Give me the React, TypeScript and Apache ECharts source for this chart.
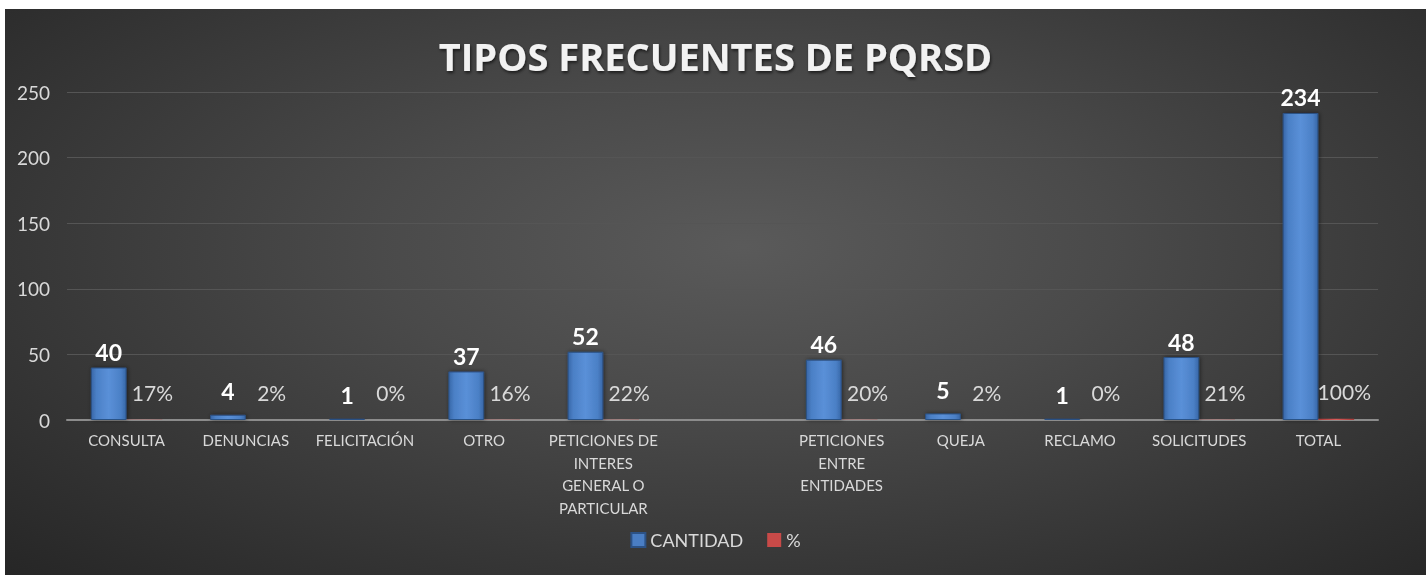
import React, { useEffect, useRef } from "react";
import * as echarts from "echarts";

const categories = [
  "CONSULTA",
  "DENUNCIAS",
  "FELICITACIÓN",
  "OTRO",
  "PETICIONES DE\nINTERES\nGENERAL O\nPARTICULAR",
  "",
  "PETICIONES\nENTRE\nENTIDADES",
  "QUEJA",
  "RECLAMO",
  "SOLICITUDES",
  "TOTAL",
];
const cantidad = [40, 4, 1, 37, 52, null, 46, 5, 1, 48, 234];
const porcentaje = [0.17, 0.02, 0.0, 0.16, 0.22, null, 0.2, 0.02, 0.0, 0.21, 1.0];
const yTicks = { min: 0, max: 250, interval: 50 };

const FONT = "Lato, 'Open Sans', sans-serif";

export default function App() {
  const ref = useRef<HTMLDivElement>(null);
  useEffect(() => {
    if (!ref.current) return;
    const chart = echarts.init(ref.current, null, { renderer: "svg" });
    const blue = new echarts.graphic.LinearGradient(0, 0, 1, 0, [
      { offset: 0, color: "#3867a8" },
      { offset: 0.15, color: "#4b80c6" },
      { offset: 0.5, color: "#5a90d8" },
      { offset: 0.85, color: "#4b80c6" },
      { offset: 1, color: "#3867a8" },
    ]);
    const red = new echarts.graphic.LinearGradient(0, 0, 1, 0, [
      { offset: 0, color: "#a83a38" },
      { offset: 0.5, color: "#d85a58" },
      { offset: 1, color: "#a83a38" },
    ]);
    chart.setOption({
      animation: false,
      textStyle: { fontFamily: FONT },
      title: {
        text: "TIPOS FRECUENTES DE PQRSD",
        left: "center",
        top: 23,
        textStyle: {
          color: "#f2f2f2",
          fontSize: 38,
          fontWeight: "bold",
          fontFamily: "'Open Sans', sans-serif",
          textShadowColor: "rgba(0,0,0,0.6)",
          textShadowBlur: 3,
          textShadowOffsetX: 1,
          textShadowOffsetY: 2,
        },
      },
      legend: {
        bottom: 21,
        left: "center",
        itemWidth: 14,
        itemHeight: 14,
        itemGap: 24,
        textStyle: { color: "#d9d9d9", fontSize: 18, fontFamily: FONT },
        data: [
          { name: "CANTIDAD", icon: "rect", itemStyle: { color: "#4a7ec4" } },
          { name: "%", icon: "rect", itemStyle: { color: "#c84a48" } },
        ],
      },
      grid: { left: 62, right: 48, top: 83, bottom: 155, containLabel: false },
      xAxis: {
        type: "category",
        data: categories,
        axisLine: { lineStyle: { color: "#8c8c8c", width: 2 } },
        axisTick: { show: false },
        axisLabel: {
          color: "#d9d9d9",
          fontSize: 15,
          lineHeight: 22.5,
          margin: 9,
          interval: 0,
          fontFamily: FONT,
        },
      },
      yAxis: {
        type: "value",
        min: yTicks.min,
        max: yTicks.max,
        interval: yTicks.interval,
        axisLine: { show: false },
        axisTick: { show: false },
        splitLine: { lineStyle: { color: "#555555", width: 1 } },
        axisLabel: { color: "#d9d9d9", fontSize: 19, margin: 17, fontFamily: FONT },
      },
      series: [
        {
          name: "CANTIDAD",
          type: "bar",
          barGap: "0%",
          barCategoryGap: "40%",
          data: cantidad.map((v) =>
            v !== null && v < 10
              ? { value: v, label: { distance: 12 } }
              : v
          ),
          itemStyle: {
            color: blue,
            borderColor: "#2c5286",
            borderWidth: 1,
            shadowColor: "rgba(0,0,0,0.5)",
            shadowBlur: 4,
            shadowOffsetX: 1,
          },
          label: {
            show: true,
            position: "top",
            distance: 4,
            color: "#ffffff",
            fontSize: 23,
            fontWeight: "bold",
            fontFamily: FONT,
          },
        },
        {
          name: "%",
          type: "bar",
          data: porcentaje,
          itemStyle: { color: red },
          label: {
            show: true,
            position: "top",
            distance: 17,
            offset: [8, 0],
            color: "#d9d9d9",
            fontSize: 21,
            fontFamily: FONT,
            formatter: (p: any) => `${Math.round(p.value * 100)}%`,
          },
        },
      ],
    });
    return () => chart.dispose();
  }, []);
  return (
    <div
      style={{
        position: "fixed",
        left: 5,
        top: 9,
        width: 1421,
        height: 566,
        background:
          "radial-gradient(ellipse at 52% 42%, #5a5a5a 0%, #4a4a4a 35%, #2e2e2e 85%, #262626 100%)",
      }}
    >
      <div ref={ref} style={{ width: 1421, height: 566 }} />
    </div>
  );
}
